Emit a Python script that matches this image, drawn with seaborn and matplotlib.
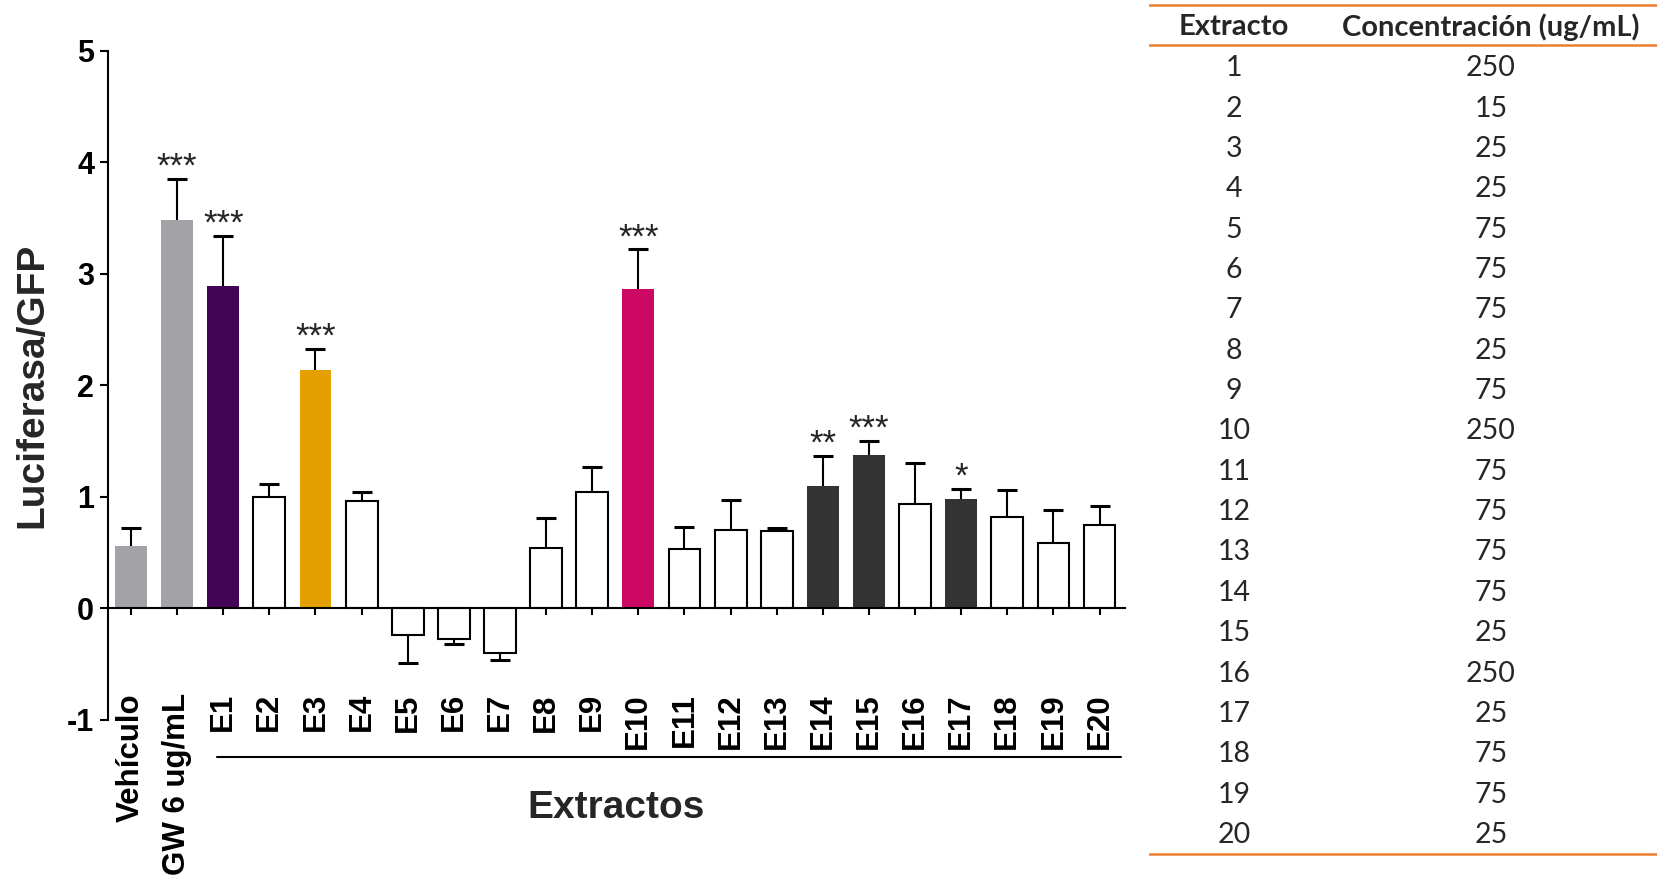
import matplotlib
matplotlib.use("Agg")
import matplotlib.pyplot as plt
import seaborn as sns
import pandas as pd
import numpy as np

# Reporter activity per treatment (mean and one-sided SEM)
labels = ["Vehículo", "GW 6 ug/mL"] + [f"E{i}" for i in range(1, 21)]
means = [0.56, 3.48, 2.89, 1.00, 2.14, 0.96, -0.24, -0.27, -0.40, 0.545, 1.045,
         2.86, 0.535, 0.70, 0.69, 1.10, 1.38, 0.935, 0.985, 0.82, 0.59, 0.75]
sems = [0.16, 0.37, 0.45, 0.12, 0.19, 0.08, 0.25, 0.05, 0.06, 0.265, 0.22,
        0.36, 0.195, 0.27, 0.03, 0.27, 0.12, 0.365, 0.085, 0.24, 0.29, 0.17]
signif = {"GW 6 ug/mL": "***", "E1": "***", "E3": "***", "E10": "***",
          "E14": "**", "E15": "***", "E17": "*"}
fill_colors = {"Vehículo": "#a3a2a7", "GW 6 ug/mL": "#a3a2a7", "E1": "#440456",
               "E3": "#e3a000", "E10": "#cd0864", "E14": "#333333",
               "E15": "#333333", "E17": "#333333"}

# Extract concentration table
extract_ids = list(range(1, 21))
concentrations = [250, 15, 25, 25, 75, 75, 75, 25, 75, 250,
                  75, 75, 75, 75, 25, 250, 25, 75, 75, 25]

sns.set_theme(style="white")
plt.rcParams["font.family"] = ["Liberation Sans", "DejaVu Sans"]

df = pd.DataFrame({"grupo": labels, "valor": means})
palette = {lab: fill_colors.get(lab, "white") for lab in labels}

fig = plt.figure(figsize=(16.58, 8.82), dpi=100)
ax = fig.add_axes([0.0651, 0.1837, 0.6134, 0.7588])

sns.barplot(data=df, x="grupo", y="valor", hue="grupo", palette=palette,
            order=labels, hue_order=labels, width=0.69, errorbar=None,
            legend=False, saturation=1, ax=ax)

for patch, lab in zip(ax.patches, labels):
    if lab in fill_colors:
        patch.set_edgecolor("none")
        patch.set_linewidth(0)
    else:
        patch.set_edgecolor("black")
        patch.set_linewidth(1.5)

# axis frame: zero-based horizontal spine
for side in ["top", "right"]:
    ax.spines[side].set_visible(False)
ax.spines["bottom"].set_position(("data", 0))
for side in ["left", "bottom"]:
    ax.spines[side].set_linewidth(1.5)
    ax.spines[side].set_color("black")

# one-sided error bars pointing away from zero
x = np.arange(len(labels))
m = np.array(means)
s = np.array(sems)
lower = np.where(m < 0, s, 0)
upper = np.where(m >= 0, s, 0)
tips = np.where(m >= 0, m + s, m - s)
ax.errorbar(x, m, yerr=[lower, upper], fmt="none", ecolor="black",
            elinewidth=1.5, capsize=0, zorder=3)
ax.plot(x, tips, ls="none", marker="_", markersize=15, mew=2.2,
        color="black", zorder=3)

for xi, lab, tv in zip(x, labels, tips):
    if lab in signif:
        ax.annotate(signif[lab], (xi, tv), xytext=(0, -3.5),
                    textcoords="offset points", ha="center", va="bottom",
                    fontsize=25)

ax.set_xlim(-0.5, 21.55)
ax.set_ylim(-1, 5)
ax.set_yticks([-1, 0, 1, 2, 3, 4, 5])
ax.set_yticklabels(["-1", "0", "1", "2", "3", "4", "5"], fontsize=22,
                   fontweight="bold")
ax.set_xticks(x)
ax.set_xticklabels(labels, rotation=90, fontsize=22.5, fontweight="bold")

ax.tick_params(axis="y", direction="out", length=6, width=1.5, pad=4,
               left=True, colors="black")
ax.tick_params(axis="x", direction="out", length=5, width=1.5, pad=56,
               bottom=True, colors="black")

ax.set_ylabel("Luciferasa/GFP", fontsize=28, fontweight="bold", labelpad=12)
ax.set_xlabel("Extractos", fontsize=28, fontweight="bold", va="top")
ax.xaxis.set_label_coords(0.5, -0.104)

# bracket grouping the extracts
ax.plot([1.87, 21.47], [-1.33, -1.33], color="black", lw=1.5, clip_on=False)

# concentration table
ax_t = fig.add_axes([1149 / 1658, 0, 509 / 1658, 1])
ax_t.set_xlim(1149, 1658)
ax_t.set_ylim(882, 0)
ax_t.axis("off")
table_font = ["Lato", "DejaVu Sans"]
orange = "#ED7D31"
for yl in [4.5, 44.5, 853.5]:
    ax_t.axhline(yl, color=orange, lw=1.8)
col1, col2 = 1234, 1491
ax_t.text(col1, 27, "Extracto", ha="center", va="center", fontsize=21,
          fontweight="bold", family=table_font)
ax_t.text(col2, 27, "Concentración (ug/mL)", ha="center", va="center",
          fontsize=21, fontweight="bold", family=table_font)
row_step = 40.35
for k, (eid, conc) in enumerate(zip(extract_ids, concentrations)):
    yy = 68.3 + k * row_step
    ax_t.text(col1, yy, str(eid), ha="center", va="center", fontsize=20.5,
              family=table_font)
    ax_t.text(col2, yy, str(conc), ha="center", va="center", fontsize=20.5,
              family=table_font)

fig.savefig("out.png", dpi=100, facecolor="white")
